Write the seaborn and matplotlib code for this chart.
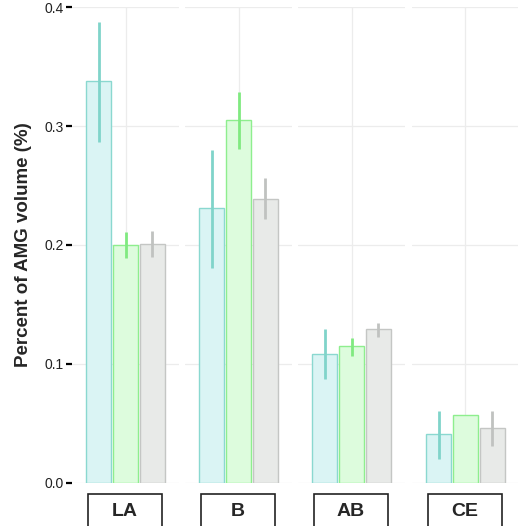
import pandas as pd
import matplotlib
matplotlib.use("Agg")
import matplotlib.pyplot as plt
import seaborn as sns
from matplotlib.patches import Rectangle

# Data
regions = ["LA", "B", "AB", "CE"]
groups = ["Group 1", "Group 2", "Group 3"]
means = {
    "Group 1": [0.338, 0.231, 0.108, 0.041],
    "Group 2": [0.200, 0.305, 0.115, 0.057],
    "Group 3": [0.201, 0.239, 0.129, 0.046],
}
lower = {
    "Group 1": [0.287, 0.181, 0.087, 0.020],
    "Group 2": [0.189, 0.281, 0.107, 0.057],
    "Group 3": [0.190, 0.222, 0.123, 0.031],
}
upper = {
    "Group 1": [0.388, 0.280, 0.129, 0.060],
    "Group 2": [0.211, 0.329, 0.122, 0.057],
    "Group 3": [0.212, 0.256, 0.134, 0.060],
}
y_ticks = [0.0, 0.1, 0.2, 0.3, 0.4]

fills = ["#daf4f4", "#ddfcdd", "#e8eae8"]
edges = ["#8ad8d0", "#8eee8e", "#c4c6c4"]
err_colors = ["#80d4ca", "#80ea80", "#c0c2c0"]

sns.set_style("white")
plt.rcParams["font.family"] = ["Liberation Sans", "DejaVu Sans"]

rows = []
for g in groups:
    for i, r in enumerate(regions):
        rows.append({"region": r, "group": g, "value": means[g][i],
                     "lo": lower[g][i], "hi": upper[g][i]})
df = pd.DataFrame(rows)

W, H = 518, 526
fig = plt.figure(figsize=(W / 100, H / 100), dpi=100)

panel_left = [72, 185, 298, 412]
panel_w = 107
y0_px, ytop_px = 482.7, 7.3
bottom = (H - y0_px) / H
height = (y0_px - ytop_px) / H
ph = y0_px - ytop_px

for k, region in enumerate(regions):
    ax = fig.add_axes([panel_left[k] / W, bottom, panel_w / W, height])
    sub = df[df["region"] == region]
    sns.barplot(data=sub, x="region", y="value", hue="group", hue_order=groups,
                palette=fills, saturation=1, width=0.9, gap=0.08, errorbar=None,
                linewidth=1.0, legend=False, ax=ax, zorder=2)

    bars = sorted(ax.patches, key=lambda p: p.get_x())
    for j, (bar, g) in enumerate(zip(bars, groups)):
        bar.set_edgecolor(edges[j])
        row = sub[sub["group"] == g].iloc[0]
        cx = bar.get_x() + bar.get_width() / 2
        if row["hi"] > row["lo"]:
            ax.vlines(cx, row["lo"], row["hi"], color=err_colors[j],
                      linewidth=2.0, zorder=3)

    ax.set_xlim(-0.6, 0.6)
    ax.set_ylim(0, 0.4)
    ax.set_yticks(y_ticks)
    ax.set_xticks([])
    ax.set_xlabel("")
    ax.set_ylabel("")
    for s in ax.spines.values():
        s.set_visible(False)
    # light grid
    for yv in y_ticks:
        ax.axhline(yv, color="#ececec", linewidth=0.9, zorder=0)
    ax.axvline(0, color="#ececec", linewidth=0.9, zorder=0)

    if k == 0:
        ax.set_yticklabels([f"{v:.1f}" for v in y_ticks], fontsize=10, color="#222222")
        ax.tick_params(axis="y", length=4, width=1.6, color="black", pad=2,
                       left=True)
        ax.set_ylabel("Percent of AMG volume (%)", fontsize=13.5,
                      fontweight="bold", labelpad=9)
    else:
        ax.set_yticklabels([])
        ax.tick_params(axis="y", length=0)

    # boxed region label under each panel
    x0 = 16 / panel_w
    x1 = 90 / panel_w
    ytop = -(494 - y0_px) / ph
    ybot = -(540 - y0_px) / ph
    ax.add_patch(Rectangle((x0, ybot), x1 - x0, ytop - ybot,
                           transform=ax.transAxes, clip_on=False,
                           facecolor="white", edgecolor="#222222", linewidth=1.2))
    ax.text((x0 + x1) / 2, -(512 - y0_px) / ph, region,
            transform=ax.transAxes, ha="center", va="center",
            fontsize=14, fontweight="bold")

fig.savefig("out.png", dpi=100)
